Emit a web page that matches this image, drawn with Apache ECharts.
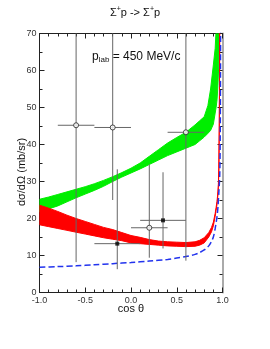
<!DOCTYPE html>
<html><head><meta charset="utf-8">
<script src="https://cdn.jsdelivr.net/npm/echarts@6/dist/echarts.min.js"></script>
<style>html,body{margin:0;padding:0;background:#fff}#c{width:270px;height:349px}</style>
</head><body><div id="c"></div>
<script>
// ---- data ----
const xTicks = [-1.0, -0.5, 0.0, 0.5, 1.0];
const yTicks = [0, 10, 20, 30, 40, 50, 60, 70];

const greenCos = [-1,-0.9,-0.8,-0.7,-0.6,-0.5,-0.4,-0.3,-0.2,-0.1,0,0.1,0.2,0.3,0.4,0.5,0.6,0.7,0.75,0.8,0.84,0.87,0.9,0.92,0.93,0.94,0.95,0.96,0.965,0.97];
const greenHi  = [25.2,25.8,26.5,27.2,27.9,28.6,29.4,30.3,31.3,32.4,33.6,35.0,36.8,38.6,40.4,41.9,43.3,45.3,46.4,47.5,50.5,55.0,61.5,66.0,71.0,76.0,82.0,88.0,92.0,95.0];
const greenLo  = [21.8,22.6,23.4,24.5,25.6,26.6,27.6,28.7,30.0,31.2,32.3,33.4,34.6,35.8,37.0,38.0,39.0,40.0,41.0,42.0,43.0,43.8,45.5,48.5,50.0,52.0,56.0,62.0,72.0,85.0];

const redCos = [-1,-0.9,-0.8,-0.7,-0.6,-0.5,-0.4,-0.3,-0.2,-0.1,0,0.1,0.2,0.3,0.4,0.5,0.6,0.7,0.75,0.8,0.85,0.88,0.9,0.92,0.93,0.94,0.95,0.955,0.96,0.965,0.968,0.97,0.975];
const redHi  = [23.6,22.8,21.9,20.9,20.0,19.2,18.4,17.6,17.0,16.2,15.4,14.9,14.3,13.9,13.7,13.6,13.5,13.7,14.1,14.8,16.2,17.6,19.0,21.4,23.0,24.6,27.2,29.2,33.6,45.6,60.6,80.6,90];
const redLo  = [18.3,17.8,17.3,16.8,16.3,15.8,15.3,14.8,14.4,14.0,13.4,13.2,13.0,12.8,12.6,12.5,12.4,12.5,12.8,13.4,15.0,16.4,18.0,20.6,22.2,23.8,26.4,28.4,32.8,44.8,59.8,79.8,89];

const blueCos = [-1,-0.8,-0.6,-0.4,-0.2,0,0.2,0.4,0.5,0.6,0.7,0.75,0.8,0.85,0.88,0.9,0.92,0.94,0.95,0.96,0.97,0.975,0.978,0.98];
const blueVal = [6.8,7.0,7.2,7.5,7.8,8.1,8.5,8.9,9.3,9.7,10.3,10.8,11.5,12.6,13.8,15.0,17.3,20.5,23.0,27.0,32.0,42.0,60.0,80.0];

// data points: [cos, value, cosLow, cosHigh, valLow, valHigh]
const openPoints = [
  [-0.6, 45.2, -0.8, -0.4, 8.2, 82],
  [-0.2, 44.6, -0.4, 0.0, 25.0, 80],
  [0.2, 17.5, 0.0, 0.4, 9.4, 34.6],
  [0.6, 43.3, 0.4, 0.8, 8.6, 80]
];
const filledPoints = [
  [-0.15, 13.2, -0.4, 0.1, 6.3, 33.3],
  [0.35, 19.5, 0.1, 0.6, 11.9, 32.5]
];

// ---- chart ----
const chart = echarts.init(document.getElementById('c'), null, {renderer:'canvas'});
const FONT = 'Liberation Sans';

function bandRender(cs, hi, lo, color) {
  return function(params, api) {
    const pts = [];
    for (let i = 0; i < cs.length; i++) pts.push(api.coord([cs[i], hi[i]]));
    for (let i = cs.length - 1; i >= 0; i--) pts.push(api.coord([cs[i], lo[i]]));
    const r = params.coordSys;
    return {
      type: 'polygon',
      shape: {points: pts},
      style: {fill: color, stroke: color, lineWidth: 1},
      clipPath: {type: 'rect', shape: {x: r.x, y: r.y, width: r.width, height: r.height}}
    };
  };
}
function errRender(params, api) {
  const c = api.value(0), v = api.value(1);
  const xl = api.coord([api.value(2), v]), xh = api.coord([api.value(3), v]);
  const yl = api.coord([c, api.value(4)]), yh = api.coord([c, api.value(5)]);
  const r = params.coordSys;
  const st = {stroke: '#666', lineWidth: 1};
  return {
    type: 'group',
    clipPath: {type: 'rect', shape: {x: r.x, y: r.y, width: r.width, height: r.height}},
    children: [
      {type: 'line', shape: {x1: xl[0], y1: xl[1], x2: xh[0], y2: xh[1]}, style: st},
      {type: 'line', shape: {x1: yl[0], y1: yl[1], x2: yh[0], y2: yh[1]}, style: st}
    ]
  };
}

function ax(extra, lineColor, lineWidth, minorSplit) {
  return Object.assign({
    axisLine: {show: true, onZero: false, lineStyle: {color: lineColor, width: lineWidth}},
    axisTick: {show: true, inside: true, length: 5, lineStyle: {color: '#222'}},
    minorTick: {show: true, splitNumber: minorSplit, length: 3, lineStyle: {color: '#222'}},
    splitLine: {show: false}
  }, extra);
}

chart.setOption({
  animation: false,
  backgroundColor: '#fff',
  grid: {left: 39.5, right: 47.5, top: 33.5, bottom: 56.5},
  xAxis: [
    ax({type: 'value', min: -1, max: 1, interval: 0.5, position: 'bottom',
      axisLabel: {fontSize: 9, color: '#333', fontFamily: FONT, margin: 4,
        formatter: v => (xTicks.indexOf(v) >= 0 ? v.toFixed(1) : '')}}, '#222', 1, 5),
    ax({type: 'value', min: -1, max: 1, interval: 0.5, position: 'top',
      axisLabel: {show: false}}, '#222', 1, 5)
  ],
  yAxis: [
    ax({type: 'value', min: 0, max: 70, interval: 10, position: 'left',
      axisLabel: {fontSize: 9, color: '#333', fontFamily: FONT, margin: 3,
        formatter: v => (yTicks.indexOf(v) >= 0 ? String(v) : '')}}, '#222', 1, 2),
    ax({type: 'value', min: 0, max: 70, interval: 10, position: 'right',
      axisLabel: {show: false}}, '#aaa', 2, 2)
  ],
  series: [
    {type: 'custom', name: 'green', renderItem: bandRender(greenCos, greenHi, greenLo, '#00ee00'), data: [[0, 0]], silent: true, z: 1},
    {type: 'custom', name: 'red', renderItem: bandRender(redCos, redHi, redLo, '#ff0000'), data: [[0, 0]], silent: true, z: 2},
    {type: 'line', name: 'blue', data: blueCos.map((c, i) => [c, blueVal[i]]), showSymbol: false, smooth: 0.3,
      lineStyle: {color: '#2233ee', width: 1.5, type: [6, 3]}, clip: true, z: 3},
    {type: 'custom', name: 'err', renderItem: errRender, data: openPoints.concat(filledPoints), z: 4},
    {type: 'scatter', name: 'open', data: openPoints.map(p => [p[0], p[1]]), symbol: 'circle', symbolSize: 5,
      itemStyle: {color: '#fff', borderColor: '#222', borderWidth: 1}, z: 5},
    {type: 'scatter', name: 'filled', data: filledPoints.map(p => [p[0], p[1]]), symbol: 'rect', symbolSize: 4,
      itemStyle: {color: '#000'}, z: 5}
  ],
  graphic: [
    {type: 'text', left: 'center', top: 6, style: {
      text: 'Σ{s|+}p -> Σ{s|+}p', font: '11px ' + FONT, fill: '#111',
      rich: {s: {fontSize: 7, fontFamily: FONT, padding: [0, 0, 7, 0], fill: '#111'}}}},
    {type: 'text', x: 92, y: 50, style: {
      text: 'p{sub|lab} = 450 MeV/c', font: '12px ' + FONT, fill: '#111',
      rich: {sub: {fontSize: 8, fontFamily: FONT, padding: [6, 0, 0, 0], fill: '#111'}}}},
    {type: 'text', x: 22, y: 172, rotation: Math.PI / 2, style: {
      text: 'dσ/dΩ (mb/sr)', font: '11px ' + FONT, fill: '#111', align: 'center', verticalAlign: 'middle'}},
    {type: 'text', x: 131, y: 309, style: {
      text: 'cos θ', font: '11px ' + FONT, fill: '#111', align: 'center', verticalAlign: 'middle'}}
  ]
});
</script></body></html>
